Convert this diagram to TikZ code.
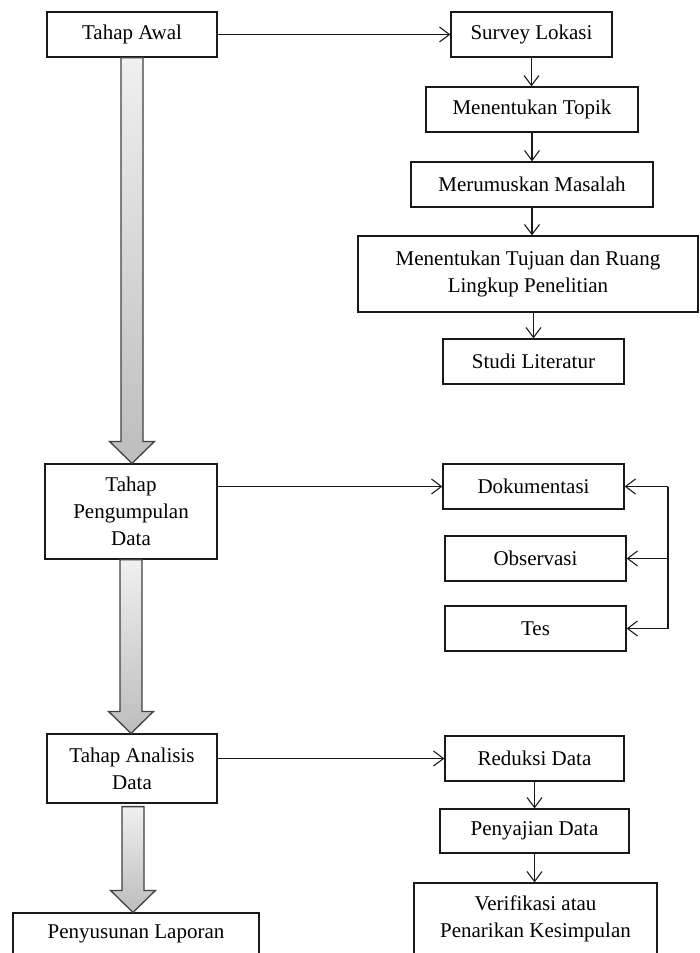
\documentclass[tikz,border=0pt]{standalone}
\usepackage{fontspec}
\setmainfont{Liberation Serif}
\usepackage{xcolor}
\usepackage{tikz}
\usetikzlibrary{arrows.meta,calc}

\tikzset{
  box/.style={draw=black!90, line width=1.2pt, align=center, inner sep=2pt,
    font=\fontsize{21}{27}\selectfont},
  flow/.style={draw=black!90, line width=1.1pt, -{Straight Barb[length=10pt,width=15pt]}},
  bigarrow/.style={draw=black!75, line width=1.3pt, top color=gray!12, bottom color=gray!52}
}
\newcommand{\grayarrow}[2]{%
  \path[bigarrow] let \p1=(#1), \p2=(#2) in
    (\x1-11pt,\y1) -- (\x1+11pt,\y1) -- (\x1+11pt,\y2+22pt) -- (\x1+22.5pt,\y2+22pt)
    -- (\x1,\y2) -- (\x1-22.5pt,\y2+22pt) -- (\x1-11pt,\y2+22pt) -- cycle;}

\begin{document}
\begin{tikzpicture}[x=1pt,y=-1pt]
		\useasboundingbox (0,0) rectangle (699,953);
		% left column
		\node[box, minimum width=170pt, minimum height=45pt] (awal) at (132,34.5) {Tahap Awal};
		\node[box, minimum width=172pt, minimum height=95pt] (kumpul) at (131,511.5) {Tahap\\Pengumpulan\\Data};
		\node[box, minimum width=170pt, minimum height=69pt] (analisis) at (132,768.5) {Tahap Analisis\\Data};
		\node[box, minimum width=246pt, minimum height=42pt] (laporan) at (136,934) {Penyusunan Laporan};
		% right column
		\node[box, minimum width=161pt, minimum height=45pt] (survey) at (531.5,34.5) {Survey Lokasi};
		\node[box, minimum width=212pt, minimum height=45pt] (topik) at (532,109.5) {Menentukan Topik};
		\node[box, minimum width=242pt, minimum height=45pt] (masalah) at (532,184.5) {Merumuskan Masalah};
		\node[box, minimum width=340pt, minimum height=76pt] (tujuan) at (528,274) {Menentukan Tujuan dan Ruang\\Lingkup Penelitian};
		\node[box, minimum width=181pt, minimum height=45pt] (studi) at (533.5,361.5) {Studi Literatur};
		\node[box, minimum width=181pt, minimum height=45pt] (dok) at (533.5,486.5) {Dokumentasi};
		\node[box, minimum width=181pt, minimum height=45pt] (obs) at (535.5,558.5) {Observasi};
		\node[box, minimum width=181pt, minimum height=45pt] (tes) at (535.5,628.5) {Tes};
		\node[box, minimum width=179pt, minimum height=45pt] (reduksi) at (534.5,758.5) {Reduksi Data};
		\node[box, minimum width=189pt, minimum height=44pt] (sajian) at (534.5,831) {Penyajian Data};
		\node[box, minimum width=243pt, minimum height=72pt] (verif) at (535.5,919) {Verifikasi atau\\Penarikan Kesimpulan};
		% gray arrows
		\coordinate (g3) at ($(analisis.south)+(1,3)$);
		\grayarrow{awal.south}{kumpul.north}
		\grayarrow{kumpul.south}{analisis.north}
		\grayarrow{g3}{laporan.north}
		% connectors
		\draw[flow] (awal.east) -- (survey.west);
		\draw[flow] (survey.south) -- (survey.south |- topik.north);
		\draw[flow] (topik.south) -- (topik.south |- masalah.north);
		\draw[flow] (masalah.south) -- (masalah.south |- tujuan.north);
		\draw[flow] (studi.north |- tujuan.south) -- (studi.north);
		\draw[flow] (kumpul.east |- dok) -- (dok.west);
		\coordinate (brk) at (668,557);
		\draw[draw=black!90, line width=1.1pt] (brk |- dok) -- (brk |- tes);
		\draw[flow] (brk |- dok) -- (dok.east);
		\draw[flow] (brk |- obs) -- (obs.east);
		\draw[flow] (brk |- tes) -- (tes.east);
		\draw[flow] (analisis.east |- reduksi) -- (reduksi.west);
		\draw[flow] (reduksi.south) -- (reduksi.south |- sajian.north);
		\draw[flow] (sajian.south) -- (sajian.south |- verif.north);
	\end{tikzpicture}
\end{document}
